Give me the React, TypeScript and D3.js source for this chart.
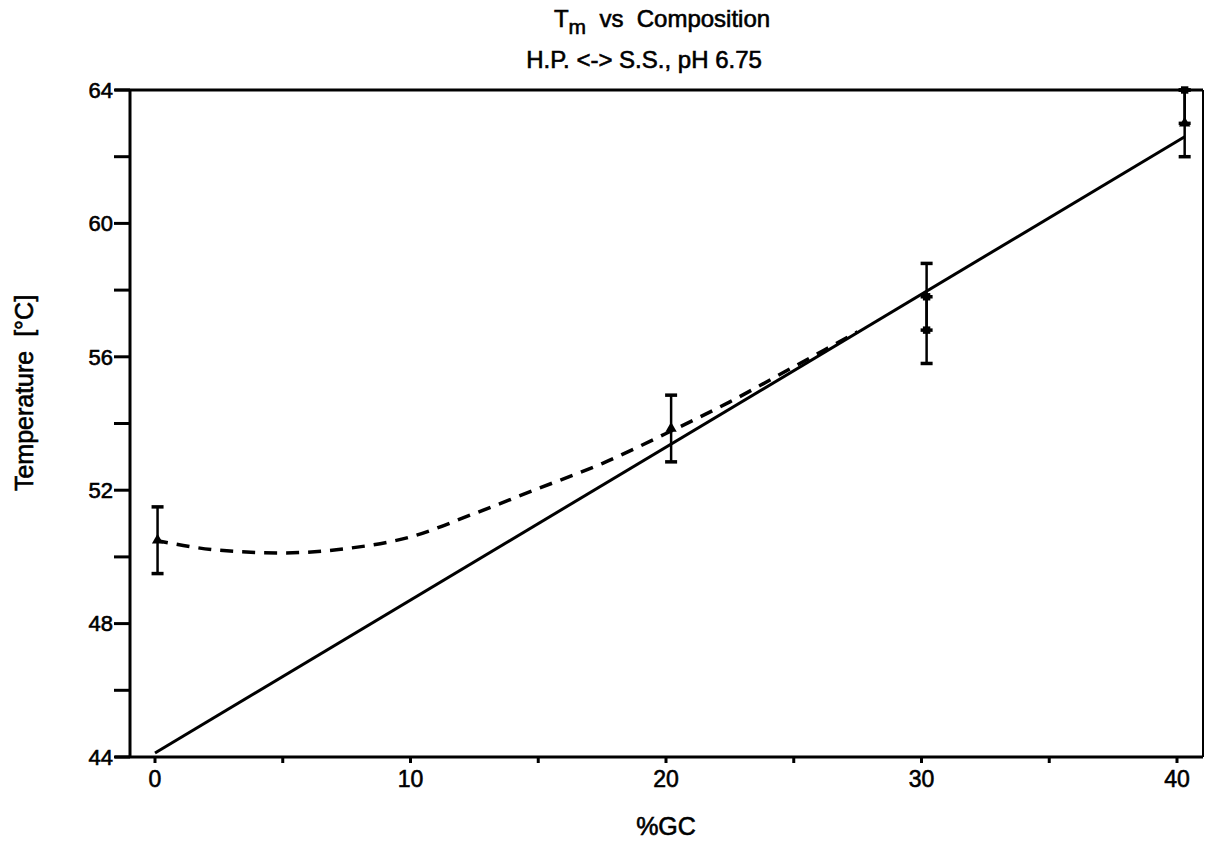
import React, { useRef, useEffect } from "react";
import * as d3 from "d3";

// measured points (x = %GC, y = Tm in °C), error bars are +/- err
const points = [
  { gc: 0.1, tm: 50.5, err: 1, shape: "triangle" },
  { gc: 20.2, tm: 53.85, err: 1, shape: "triangle" },
  { gc: 30.2, tm: 57.8, err: 1, shape: "square" },
  { gc: 30.2, tm: 56.8, err: 1, shape: "square" },
  { gc: 40.3, tm: 64.0, err: 1, shape: "square" },
  { gc: 40.3, tm: 63.0, err: 1, shape: "triangle" },
];

// linear fit endpoints
const fitGC = [0, 40.3];
const fitTm = [44.12, 62.6];

// dashed curve
const curveGC = [0, 2.5, 5, 7.5, 10, 12.5, 15, 17.5, 20, 22.5, 25, 27.5];
const curveTm = [50.5, 50.2, 50.12, 50.25, 50.6, 51.3, 52.05, 52.8, 53.7, 54.65, 55.7, 56.75];

const xTicks = [0, 5, 10, 15, 20, 25, 30, 35, 40];
const xLabels = [0, 10, 20, 30, 40];
const yTicks = [44, 46, 48, 50, 52, 54, 56, 58, 60, 62, 64];
const yLabels = [44, 48, 52, 56, 60, 64];

const title = "vs  Composition";
const subtitle = "H.P. <-> S.S., pH 6.75";

const App: React.FC = () => {
  const svgRef = useRef<SVGSVGElement>(null);

  useEffect(() => {
    if (!svgRef.current) return;
    const svg = d3.select(svgRef.current);
    svg.selectAll("*").remove();

    const width = 1205;
    const height = 841;
    const left = 130;
    const right = 1203;
    const top = 90;
    const bottom = 757;
    const font = "'Liberation Sans', Arial, sans-serif";

    svg.attr("width", width).attr("height", height).style("font-family", font);

    const x = d3.scaleLinear().domain([0, 40]).range([155, 1177]);
    const y = d3.scaleLinear().domain([44, 64]).range([bottom, top]);

    // frame
    const g = svg.append("g").attr("stroke", "#000").attr("fill", "none");
    g.append("line")
      .attr("x1", left - 15).attr("x2", right)
      .attr("y1", top).attr("y2", top)
      .attr("stroke-width", 3);
    g.append("line")
      .attr("x1", left - 15).attr("x2", right)
      .attr("y1", bottom).attr("y2", bottom)
      .attr("stroke-width", 3);
    g.append("line")
      .attr("x1", left).attr("x2", left)
      .attr("y1", top).attr("y2", bottom)
      .attr("stroke-width", 3);
    g.append("line")
      .attr("x1", right).attr("x2", right)
      .attr("y1", top).attr("y2", bottom)
      .attr("stroke-width", 2);

    // y ticks
    g.selectAll(".yt")
      .data(yTicks)
      .join("line")
      .attr("x1", left - 16).attr("x2", left)
      .attr("y1", (d) => y(d)).attr("y2", (d) => y(d))
      .attr("stroke-width", 3);
    // x ticks
    g.selectAll(".xt")
      .data(xTicks)
      .join("line")
      .attr("x1", (d) => x(d)).attr("x2", (d) => x(d))
      .attr("y1", bottom).attr("y2", bottom + 6)
      .attr("stroke-width", 3);

    // text is slightly stroked to match the heavy scanned print
    const textStroke = (sel: d3.Selection<any, any, any, any>) =>
      sel.attr("stroke", "#000").attr("stroke-width", 0.6).attr("fill", "#000");

    svg.append("g")
      .call(textStroke)
      .selectAll("text")
      .data(yLabels)
      .join("text")
      .attr("x", left - 17)
      .attr("y", (d) => y(d))
      .attr("dy", "0.35em")
      .attr("text-anchor", "end")
      .attr("font-size", 22)
      .text((d) => d);

    svg.append("g")
      .call(textStroke)
      .selectAll("text")
      .data(xLabels)
      .join("text")
      .attr("x", (d) => x(d))
      .attr("y", 787)
      .attr("text-anchor", "middle")
      .attr("font-size", 23)
      .text((d) => d);

    // axis titles
    svg.append("text")
      .call(textStroke)
      .attr("x", 666)
      .attr("y", 835)
      .attr("text-anchor", "middle")
      .attr("font-size", 25)
      .text("%GC");
    svg.append("text")
      .call(textStroke)
      .attr("transform", "translate(33,393) rotate(-90)")
      .attr("text-anchor", "middle")
      .attr("font-size", 25)
      .attr("xml:space", "preserve")
      .text("Temperature  [°C]");

    // titles
    const t1 = svg.append("text")
      .call(textStroke)
      .attr("x", 662)
      .attr("y", 27)
      .attr("text-anchor", "middle")
      .attr("font-size", 24)
      .attr("xml:space", "preserve");
    t1.append("tspan").text("T");
    t1.append("tspan").attr("dy", 7).attr("font-size", 21).text("m");
    t1.append("tspan").attr("dy", -7).text("  " + title);
    svg.append("text")
      .call(textStroke)
      .attr("x", 644)
      .attr("y", 68)
      .attr("text-anchor", "middle")
      .attr("font-size", 24)
      .text(subtitle);

    // linear fit
    const line = d3.line<number>()
      .x((d, i) => x(fitGC[i]))
      .y((d) => y(d));
    svg.append("path")
      .attr("d", line(fitTm))
      .attr("fill", "none")
      .attr("stroke", "#000")
      .attr("stroke-width", 3);

    // dashed curve
    const curve = d3.line<number>()
      .x((d, i) => x(curveGC[i]))
      .y((d) => y(d))
      .curve(d3.curveMonotoneX);
    svg.append("path")
      .attr("d", curve(curveTm))
      .attr("fill", "none")
      .attr("stroke", "#000")
      .attr("stroke-width", 3.5)
      .attr("stroke-dasharray", "13 9");

    // error bars
    const clipY = (v: number) => Math.min(64, v);
    const eb = svg.append("g").attr("stroke", "#000").attr("stroke-width", 2.5);
    points.forEach((p) => {
      const cx = x(p.gc);
      const y0 = y(clipY(p.tm + p.err));
      const y1 = y(p.tm - p.err);
      eb.append("line").attr("x1", cx).attr("x2", cx).attr("y1", y0).attr("y2", y1);
      eb.append("line").attr("x1", cx - 6).attr("x2", cx + 6).attr("y1", y0).attr("y2", y0).attr("stroke-width", 3.5);
      eb.append("line").attr("x1", cx - 6).attr("x2", cx + 6).attr("y1", y1).attr("y2", y1).attr("stroke-width", 3.5);
    });

    // markers
    const sym = d3.symbol<(typeof points)[number]>()
      .type((d) => (d.shape === "square" ? d3.symbolSquare : d3.symbolTriangle))
      .size(55);
    svg.append("g")
      .selectAll("path")
      .data(points)
      .join("path")
      .attr("transform", (d) => `translate(${x(d.gc)},${y(d.tm)})`)
      .attr("d", sym)
      .attr("fill", "#000");
  }, []);

  return (
    <svg
      ref={svgRef}
      style={{ position: "absolute", left: 0, top: 0, background: "#fff" }}
    />
  );
};

export default App;
